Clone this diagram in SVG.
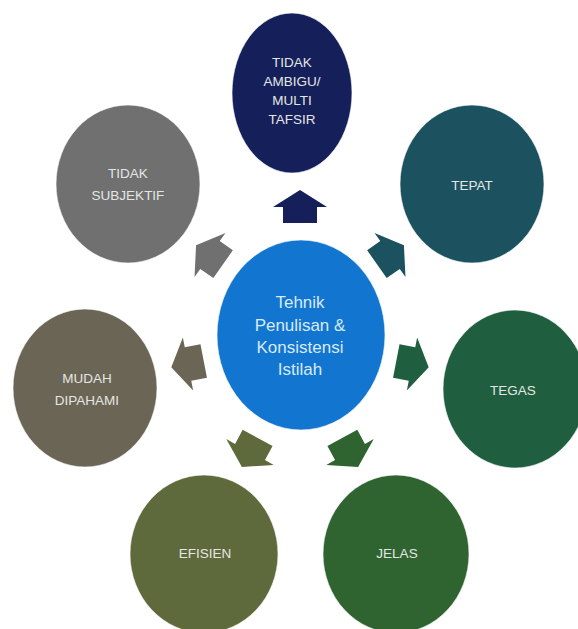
<svg xmlns="http://www.w3.org/2000/svg" width="578" height="629" viewBox="0 0 578 629">
<defs>
<style>
.lbl{font-family:"Liberation Sans",Arial,sans-serif;font-size:13.5px;fill:#E4E6E4;text-anchor:middle}
.ctr{font-family:"Liberation Sans",Arial,sans-serif;font-size:17px;fill:#D8EAF8;text-anchor:middle}
.node{stroke:#FFFFFF;stroke-opacity:0.6;stroke-width:1}
</style>
<polygon id="arr" points="0,-17 27,0 17,0 17,16 -17,16 -17,0 -27,0"/>
</defs>
<rect width="578" height="629" fill="#FFFFFF"/>
<g id="connectors">
<use href="#arr" transform="translate(300,207)" fill="#15205B"/>
<use href="#arr" transform="translate(390,255) rotate(55)" fill="#1C5260"/>
<use href="#arr" transform="translate(412,364) rotate(101)" fill="#205E40"/>
<use href="#arr" transform="translate(350,452) rotate(151.5)" fill="#2F6431"/>
<use href="#arr" transform="translate(250,452) rotate(-151.5)" fill="#5E6A3C"/>
<use href="#arr" transform="translate(188,364) rotate(-101)" fill="#6B6556"/>
<use href="#arr" transform="translate(210,255) rotate(-55)" fill="#707070"/>
</g>
<g id="center">
<ellipse class="node" cx="301" cy="335" rx="84" ry="95" fill="#1275CF"/>
<text class="ctr" x="300" y="308">Tehnik</text>
<text class="ctr" x="300" y="331">Penulisan &amp;</text>
<text class="ctr" x="300" y="353">Konsistensi</text>
<text class="ctr" x="300" y="375">Istilah</text>
</g>
<g id="tidak-ambigu">
<ellipse class="node" cx="292" cy="93" rx="60" ry="80" fill="#15205B"/>
<text class="lbl" x="292" y="67">TIDAK</text>
<text class="lbl" x="292" y="86">AMBIGU/</text>
<text class="lbl" x="292" y="105">MULTI</text>
<text class="lbl" x="292" y="124">TAFSIR</text>
</g>
<g id="tepat">
<ellipse class="node" cx="472" cy="184" rx="72" ry="79" fill="#1C5260"/>
<text class="lbl" x="472" y="190">TEPAT</text>
</g>
<g id="tegas">
<ellipse class="node" cx="515" cy="389" rx="72" ry="79" fill="#205E40"/>
<text class="lbl" x="513" y="395">TEGAS</text>
</g>
<g id="jelas">
<ellipse class="node" cx="396" cy="554" rx="73" ry="79" fill="#2F6431"/>
<text class="lbl" x="397" y="558">JELAS</text>
</g>
<g id="efisien">
<ellipse class="node" cx="204" cy="554" rx="74" ry="79" fill="#5E6A3C"/>
<text class="lbl" x="205" y="558">EFISIEN</text>
</g>
<g id="mudah-dipahami">
<ellipse class="node" cx="85" cy="388" rx="72" ry="79" fill="#6B6556"/>
<text class="lbl" x="87" y="383">MUDAH</text>
<text class="lbl" x="87" y="405">DIPAHAMI</text>
</g>
<g id="tidak-subjektif">
<ellipse class="node" cx="128" cy="184" rx="72" ry="79" fill="#707070"/>
<text class="lbl" x="128" y="178">TIDAK</text>
<text class="lbl" x="128" y="200">SUBJEKTIF</text>
</g>
</svg>
